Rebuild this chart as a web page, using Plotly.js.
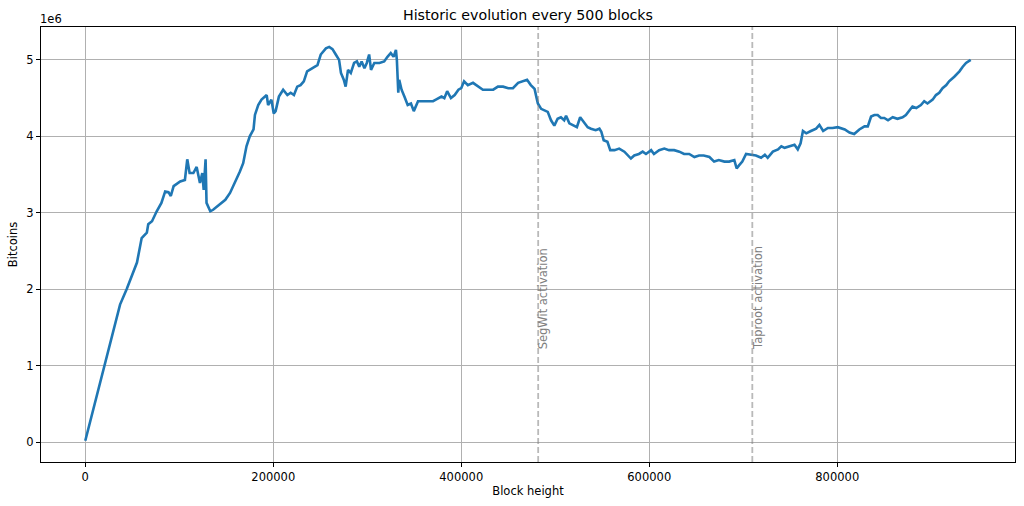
<!DOCTYPE html>
<html>
  <head>
    <meta charset="utf-8" />
    <title>Historic evolution every 500 blocks</title>
    <script src="https://cdn.plot.ly/plotly-3.0.1.min.js"></script>
    <style>
      body { margin: 0; padding: 0; background: white; }
      #graphDiv { width: 1024px; height: 506px; }
    </style>
  </head>
  <body>
    <div id="graphDiv"></div>
    <script>
      // block height and supply (in millions of BTC)
      const block_height = [
        0, 37000, 44000, 51000, 55000, 60000, 65500, 67000, 71000, 76000,
        81000, 85000, 88500, 91000, 94000, 101000, 106000, 108500, 111000, 115000,
        118500, 122000, 124500, 126000, 128000, 129000, 133000, 136000, 143000, 149000,
        154000, 159000, 164500, 168000, 171500, 175000, 179000, 180500, 184000, 187500,
        193000, 194500, 198000, 200500, 202500, 206000, 210500, 215000, 218500, 222000,
        225500, 229000, 232500, 236000, 241500, 247000, 250500, 256000, 259500, 263000,
        266500, 270000, 272000, 275000, 277000, 279500, 282500, 286000, 289000, 291500,
        294000, 297000, 299500, 302000, 304000, 307500, 313000, 318000, 321500, 325000,
        328000, 330500, 331500, 333000, 334000, 336500, 339500, 343000, 346500, 349500,
        354000, 359000, 364500, 370000, 373000, 379000, 382000, 385000, 389000, 393000,
        397000, 400000, 403000, 407000, 412500, 418000, 423000, 428500, 434000, 439000,
        444500, 450000, 455000, 460500, 466000, 470000, 474000, 478000, 480000, 481500,
        485000, 488500, 492000, 495500, 499000, 502500, 506000, 509500, 511500, 515000,
        520000, 523000, 526500, 530000, 534500, 538000, 543000, 547000, 549000, 551500,
        555500, 558500, 563000, 568000, 573500, 580500, 584000, 589000, 593000, 596500,
        602000, 605000, 610500, 616000, 621000, 626500, 632000, 637000, 642500, 648000,
        653000, 658000, 664000, 669000, 674000, 680000, 685000, 690500, 693000, 695500,
        699000, 703000, 708000, 713500, 719000, 723000, 726000, 731500, 737000, 740500,
        744000, 749000, 754500, 758000, 761000, 763500, 767000, 772000, 777500, 781000,
        785000, 790000, 795000, 800500, 808000, 813000, 818000, 823500, 829000, 832500,
        836000, 839500, 843000, 846500, 850000, 854000, 859000, 864000, 869500, 873000,
        877000, 880000, 884000, 889000, 892500, 896000, 901500, 905000, 908500, 912000,
        916000, 919000, 924500, 930000, 933500, 937000, 942000
      ];
      const bitcoins_m = [
        0.02, 1.80, 2.00, 2.22, 2.35, 2.67, 2.74, 2.85, 2.89, 3.02,
        3.13, 3.28, 3.27, 3.22, 3.35, 3.41, 3.43, 3.70, 3.52, 3.52,
        3.60, 3.39, 3.52, 3.30, 3.70, 3.13, 3.02, 3.04, 3.11, 3.17,
        3.26, 3.39, 3.54, 3.65, 3.87, 4.00, 4.09, 4.28, 4.41, 4.48,
        4.54, 4.41, 4.48, 4.30, 4.33, 4.52, 4.61, 4.54, 4.57, 4.54,
        4.65, 4.67, 4.72, 4.85, 4.89, 4.93, 5.07, 5.15, 5.17, 5.14,
        5.07, 5.00, 4.83, 4.74, 4.65, 4.87, 4.83, 4.96, 4.98, 4.91,
        4.98, 4.89, 4.96, 5.07, 4.87, 4.96, 4.96, 4.98, 5.04, 5.09,
        5.04, 5.13, 5.00, 4.57, 4.74, 4.61, 4.52, 4.41, 4.43, 4.33,
        4.46, 4.46, 4.46, 4.46, 4.48, 4.52, 4.50, 4.59, 4.50, 4.54,
        4.61, 4.63, 4.72, 4.67, 4.70, 4.65, 4.61, 4.61, 4.61, 4.65,
        4.65, 4.63, 4.63, 4.70, 4.72, 4.74, 4.67, 4.62, 4.51, 4.43,
        4.36, 4.34, 4.32, 4.21, 4.14, 4.23, 4.25, 4.21, 4.27, 4.17,
        4.14, 4.12, 4.25, 4.19, 4.12, 4.10, 4.08, 4.10, 4.06, 3.95,
        3.93, 3.82, 3.82, 3.84, 3.80, 3.71, 3.75, 3.77, 3.80, 3.77,
        3.82, 3.77, 3.82, 3.84, 3.82, 3.82, 3.80, 3.77, 3.77, 3.73,
        3.75, 3.75, 3.73, 3.67, 3.69, 3.67, 3.67, 3.69, 3.58, 3.62,
        3.67, 3.77, 3.76, 3.75, 3.72, 3.76, 3.72, 3.80, 3.83, 3.87,
        3.85, 3.87, 3.89, 3.83, 3.91, 4.07, 4.04, 4.07, 4.10, 4.15,
        4.07, 4.11, 4.11, 4.12, 4.09, 4.05, 4.03, 4.09, 4.13, 4.13,
        4.26, 4.28, 4.28, 4.24, 4.24, 4.21, 4.25, 4.23, 4.25, 4.28,
        4.35, 4.39, 4.37, 4.41, 4.46, 4.43, 4.48, 4.54, 4.57, 4.63,
        4.67, 4.72, 4.78, 4.85, 4.91, 4.96, 5.00
      ];
      const event_blocks = [481824, 709632];
      const event_labels = ["SegWit activation", "Taproot activation"];
      const x_ticks = [0, 200000, 400000, 600000, 800000];
      const y_ticks = [0, 1, 2, 3, 4, 5];

      const font_family = "DejaVu Sans, sans-serif";

      const traces = [{
        x: block_height,
        y: bitcoins_m,
        mode: "lines",
        line: { color: "#1f77b4", width: 2.6 },
        hoverinfo: "x+y",
        showlegend: false,
      }];

      const shapes = event_blocks.map((b) => ({
        type: "line",
        xref: "x",
        yref: "paper",
        x0: b,
        x1: b,
        y0: 0,
        y1: 1,
        line: { color: "rgba(128,128,128,0.55)", width: 1.8, dash: "6px,3px" },
        layer: "above",
      }));

      const annotations = event_blocks.map((b, i) => ({
        x: b,
        y: 1.25,
        xref: "x",
        yref: "y",
        text: event_labels[i],
        textangle: -90,
        xanchor: "left",
        yanchor: "bottom",
        xshift: -3,
        yshift: -4,
        showarrow: false,
        borderpad: 0,
        font: { family: font_family, size: 11.5, color: "#808080" },
      }));

      annotations.push({
        x: 0,
        y: 1,
        xref: "paper",
        yref: "paper",
        text: "1e6",
        xanchor: "left",
        yanchor: "bottom",
        xshift: -3,
        yshift: -1,
        showarrow: false,
        font: { family: font_family, size: 11.5, color: "black" },
      });

      const layout = {
        width: 1024,
        height: 506,
        paper_bgcolor: "white",
        plot_bgcolor: "white",
        margin: { l: 41, r: 9, t: 27, b: 44 },
        showlegend: false,
        font: { family: font_family, size: 11.5, color: "black" },
        title: {
          text: "Historic evolution every 500 blocks",
          font: { family: font_family, size: 14.2, color: "black" },
          xref: "paper",
          x: 0.5,
          xanchor: "center",
          yref: "container",
          y: 0.97,
          yanchor: "middle",
        },
        xaxis: {
          range: [-47100, 989100],
          tickvals: x_ticks,
          ticktext: x_ticks.map(String),
          ticks: "outside",
          ticklen: 4,
          tickcolor: "black",
          showgrid: true,
          gridcolor: "#b0b0b0",
          gridwidth: 1,
          zeroline: false,
          showline: true,
          linecolor: "black",
          linewidth: 1,
          mirror: true,
          title: { text: "Block height", standoff: 4, font: { family: font_family, size: 11.5 } },
        },
        yaxis: {
          range: [-0.258, 5.43],
          tickvals: y_ticks,
          ticktext: y_ticks.map(String),
          ticks: "outside",
          ticklen: 4,
          tickcolor: "black",
          showgrid: true,
          gridcolor: "#b0b0b0",
          gridwidth: 1,
          zeroline: false,
          showline: true,
          linecolor: "black",
          linewidth: 1,
          mirror: true,
          title: { text: "Bitcoins", standoff: 6, font: { family: font_family, size: 11.5 } },
        },
        shapes: shapes,
        annotations: annotations,
      };

      Plotly.newPlot("graphDiv", traces, layout, { displayModeBar: false, responsive: false });
    </script>
  </body>
</html>
